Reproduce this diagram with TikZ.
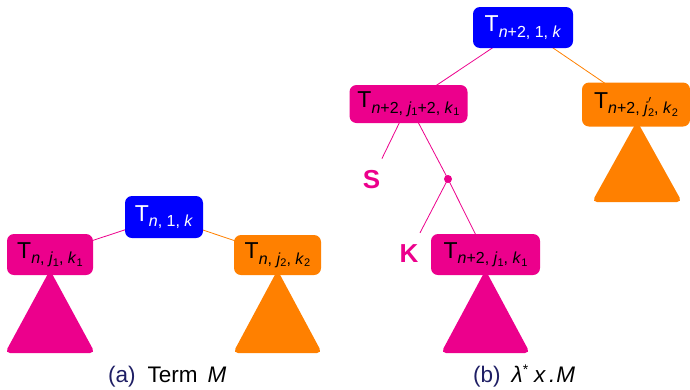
\documentclass[tikz,border=0pt]{standalone}
\usepackage{fontspec}
\setmainfont{Liberation Sans}
\usetikzlibrary{backgrounds}
\definecolor{mag}{RGB}{236,0,140}
\definecolor{org}{RGB}{255,128,0}
\definecolor{blu}{RGB}{0,0,255}
\definecolor{navy}{RGB}{30,30,100}
\newcommand\subA[1]{\raisebox{-5.5pt}{\fontsize{16}{16}\selectfont #1}}
\newcommand\subB[1]{\raisebox{-2.5pt}{\fontsize{11}{11}\selectfont #1}}
\newcommand\Tn[1]{T\subA{#1}}
\tikzset{
  box/.style={rounded corners=7pt, inner sep=0pt, font=\fontsize{23}{23}\selectfont},
  mbox/.style={box, fill=mag, text=black},
  obox/.style={box, fill=org, text=black},
  bbox/.style={box, fill=blu, text=white},
  tri/.style={rounded corners=5pt},
  medge/.style={draw=mag, line width=0.8pt},
  oedge/.style={draw=org, line width=0.8pt},
  letter/.style={font=\fontsize{26}{26}\selectfont\bfseries, text=mag, inner xsep=6pt, inner ysep=12pt},
  captext/.style={anchor=base west, inner sep=0pt, font=\fontsize{22.5}{22.5}\selectfont}
}
\begin{document}
\begin{tikzpicture}[x=1pt,y=-1pt]
\useasboundingbox (0,0) rectangle (690,389);
% (a)
\node[bbox, minimum width=78pt, minimum height=42pt] (ra) at (164,217) {\Tn{\textit{n}, 1, \textit{k}}};
\node[mbox, minimum width=86pt, minimum height=41pt] (ma) at (50,254.5) {\Tn{\textit{n}, \textit{j}\subB{1}, \textit{k}\subB{1}}};
\node[obox, minimum width=87pt, minimum height=40pt] (oa) at (277.5,255) {\Tn{\textit{n}, \textit{j}\subB{2}, \textit{k}\subB{2}}};
% (b)
\node[bbox, minimum width=100pt, minimum height=41pt] (rb) at (523,27.5) {\Tn{\textit{n}+2, 1, \textit{k}}};
\node[mbox, minimum width=118pt, minimum height=38pt] (mb) at (408.5,104) {\Tn{\textit{n}+2, \textit{j}\subB{1}+2, \textit{k}\subB{1}}};
\node[obox, minimum width=108pt, minimum height=44pt] (ob) at (636,104.5) {\Tn{\textit{n}+2, \textit{j}\rlap{\raisebox{4pt}{\fontsize{16}{16}\selectfont$'$}}\subB{2}, \textit{k}\subB{2}}};
\node[mbox, minimum width=109pt, minimum height=41pt] (mc) at (485.5,254.5) {\Tn{\textit{n}+2, \textit{j}\subB{1}, \textit{k}\subB{1}}};
\node[letter] (S) at (371.5,180) {S};
\node[letter] (K) at (409,254) {K};
\node[circle, fill=mag, inner sep=0pt, minimum size=8pt] (dot) at (448,179) {};
% captions
\node[captext] (ca) at (108,382) {\textcolor{navy}{(a)}\hspace{12pt}Term\hspace{10pt}\textit{M}};
\node[captext] (cb) at (473,382) {\textcolor{navy}{(b)}\hspace{11pt}\textit{λ}\raisebox{8pt}{\fontsize{14}{14}\selectfont *}\hspace{6pt}\textit{x}\hspace{3pt}\textit{.}\hspace{1pt}\textit{M}};
\begin{scope}[on background layer]
  \fill[mag, tri] (50,270) -- (95,353) -- (5,353) -- cycle;
  \fill[org, tri] (277.5,270) -- (322,353) -- (233,353) -- cycle;
  \fill[mag, tri] (485.5,270) -- (530,353) -- (441,353) -- cycle;
  \fill[org, tri] (637,121) -- (682,202) -- (592,202) -- cycle;
  \draw[medge] (ra.center) -- (ma.center);
  \draw[oedge] (ra.center) -- (oa.center);
  \draw[medge] (rb.center) -- (mb.center);
  \draw[oedge] (rb.center) -- (ob.center);
  \draw[medge] (mb.center) -- (S);
  \draw[medge] (mb.center) -- (dot.center);
  \draw[medge] (dot.center) -- (K);
  \draw[medge] (dot.center) -- (mc.center);
\end{scope}
\end{tikzpicture}
\end{document}
